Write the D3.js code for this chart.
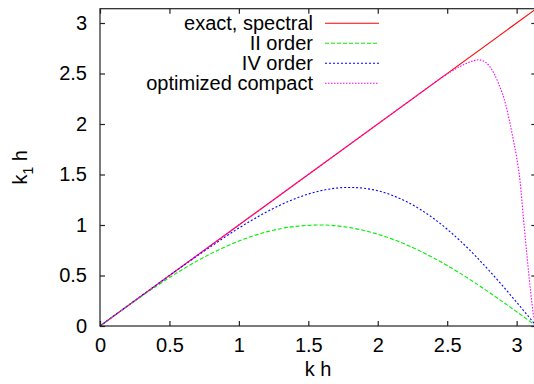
<!DOCTYPE html>
<html><head><meta charset="utf-8">
<script src="https://cdn.jsdelivr.net/npm/d3@7"></script>
<style>
body{margin:0;background:#fff;}
svg{display:block;font-family:"Liberation Sans",Arial,sans-serif;}
</style></head>
<body><svg id="c" width="534" height="384"></svg>
<script>
const PI = 3.14159;
const xTicks = [0, 0.5, 1, 1.5, 2, 2.5, 3];
const yTicks = [0, 0.5, 1, 1.5, 2, 2.5, 3];
const seriesNames = ["exact, spectral", "II order", "IV order", "optimized compact"];
const exactX = [0, PI];
const exactY = [0, PI];
const ord2X = [0,0.2,0.4,0.6,0.8,1.0,1.2,1.4,1.6,1.8,2.0,2.2,2.4,2.6,2.8,3.0,PI];
const ord2Y = [0,0.199,0.389,0.565,0.717,0.841,0.932,0.985,1.000,0.974,0.909,0.808,0.675,0.516,0.335,0.141,0];
const ord4X = [0,0.2,0.4,0.6,0.8,1.0,1.2,1.4,1.6,1.8,2.0,2.2,2.4,2.6,2.8,3.0,PI];
const ord4Y = [0,0.2005,0.399,0.598,0.789,0.970,1.130,1.258,1.343,1.372,1.339,1.236,1.067,0.835,0.552,0.235,0];
const compX = [0,0.5,1.0,1.5,2.0,2.3,2.5,2.6,2.7,2.725,2.75,2.8,2.87,2.92,2.95,2.975,3.0,3.025,3.05,3.075,3.1,3.12,PI];
const compY = [0,0.5,1.0,1.5,2.0,2.3,2.495,2.575,2.63,2.636,2.63,2.58,2.40,2.20,2.02,1.85,1.67,1.43,1.05,0.69,0.35,0.12,0];

const colors = ["#ff0000", "#00f000", "#0000ff", "#ff00ff"];
const dashes = [null, "4,2", "2,2", "1.5,1.5"];

const L = 100, R = 536.3, T = 8.7, B = 326;
const x = d3.scaleLinear().domain([0, PI]).range([L, R]);
const y = d3.scaleLinear().domain([0, PI]).range([B, T]);
const svg = d3.select("#c");
const FS = 20;

const series = [
  {x: exactX, y: exactY},
  {x: ord2X, y: ord2Y},
  {x: ord4X, y: ord4Y},
  {x: compX, y: compY}
];
const line = d3.line().x(d => x(d[0])).y(d => y(d[1])).curve(d3.curveMonotoneX);
series.forEach((s, i) => {
  const pts = s.x.map((v, j) => [v, s.y[j]]);
  svg.append("path").attr("d", line(pts)).attr("fill", "none")
    .attr("stroke", colors[i]).attr("stroke-width", 1.1)
    .attr("stroke-dasharray", dashes[i]);
});

// border
svg.append("rect").attr("x", L).attr("y", T).attr("width", R - L).attr("height", B - T)
  .attr("fill", "none").attr("stroke", "#222").attr("stroke-width", 1.2);

// axes with inner ticks
const fmt = d => String(d);
const gx = svg.append("g").attr("transform", `translate(0,${B})`)
  .call(d3.axisBottom(x).tickValues(xTicks).tickSizeInner(-5).tickSizeOuter(0).tickPadding(12).tickFormat(fmt));
const gxt = svg.append("g").attr("transform", `translate(0,${T})`)
  .call(d3.axisTop(x).tickValues(xTicks).tickSizeInner(-5).tickSizeOuter(0).tickFormat(""));
const gy = svg.append("g").attr("transform", `translate(${L},0)`)
  .call(d3.axisLeft(y).tickValues(yTicks).tickSizeInner(-5).tickSizeOuter(0).tickPadding(13).tickFormat(fmt));
const gyr = svg.append("g").attr("transform", `translate(${R},0)`)
  .call(d3.axisRight(y).tickValues(yTicks).tickSizeInner(-5).tickSizeOuter(0).tickFormat(""));
[gx, gxt, gy, gyr].forEach(g => {
  g.select(".domain").remove();
  g.selectAll(".tick line").attr("stroke", "#222").attr("stroke-width", 1.2);
  g.selectAll("text").attr("font-size", FS).attr("fill", "#000")
    .attr("font-family", '"Liberation Sans",Arial,sans-serif');
});

// axis titles
svg.append("text").attr("x", (L + R) / 2).attr("y", 376).attr("text-anchor", "middle")
  .attr("font-size", FS).text("k h");
const yl = svg.append("text").attr("transform", `translate(27,${(T + B) / 2}) rotate(-90)`)
  .attr("text-anchor", "middle").attr("font-size", FS);
yl.append("tspan").text("k");
yl.append("tspan").attr("font-size", 14).attr("dy", 6).text("1");
yl.append("tspan").attr("dy", -6).text(" h");

// legend
const legY = [23.3, 43.3, 63.3, 83.3];
seriesNames.forEach((n, i) => {
  svg.append("text").attr("x", 313).attr("y", legY[i]).attr("dy", "0.35em")
    .attr("text-anchor", "end").attr("font-size", FS).text(n);
  svg.append("line").attr("x1", 325).attr("x2", 379).attr("y1", legY[i]).attr("y2", legY[i])
    .attr("stroke", colors[i]).attr("stroke-width", 1.1).attr("stroke-dasharray", dashes[i]);
});
</script></body></html>
